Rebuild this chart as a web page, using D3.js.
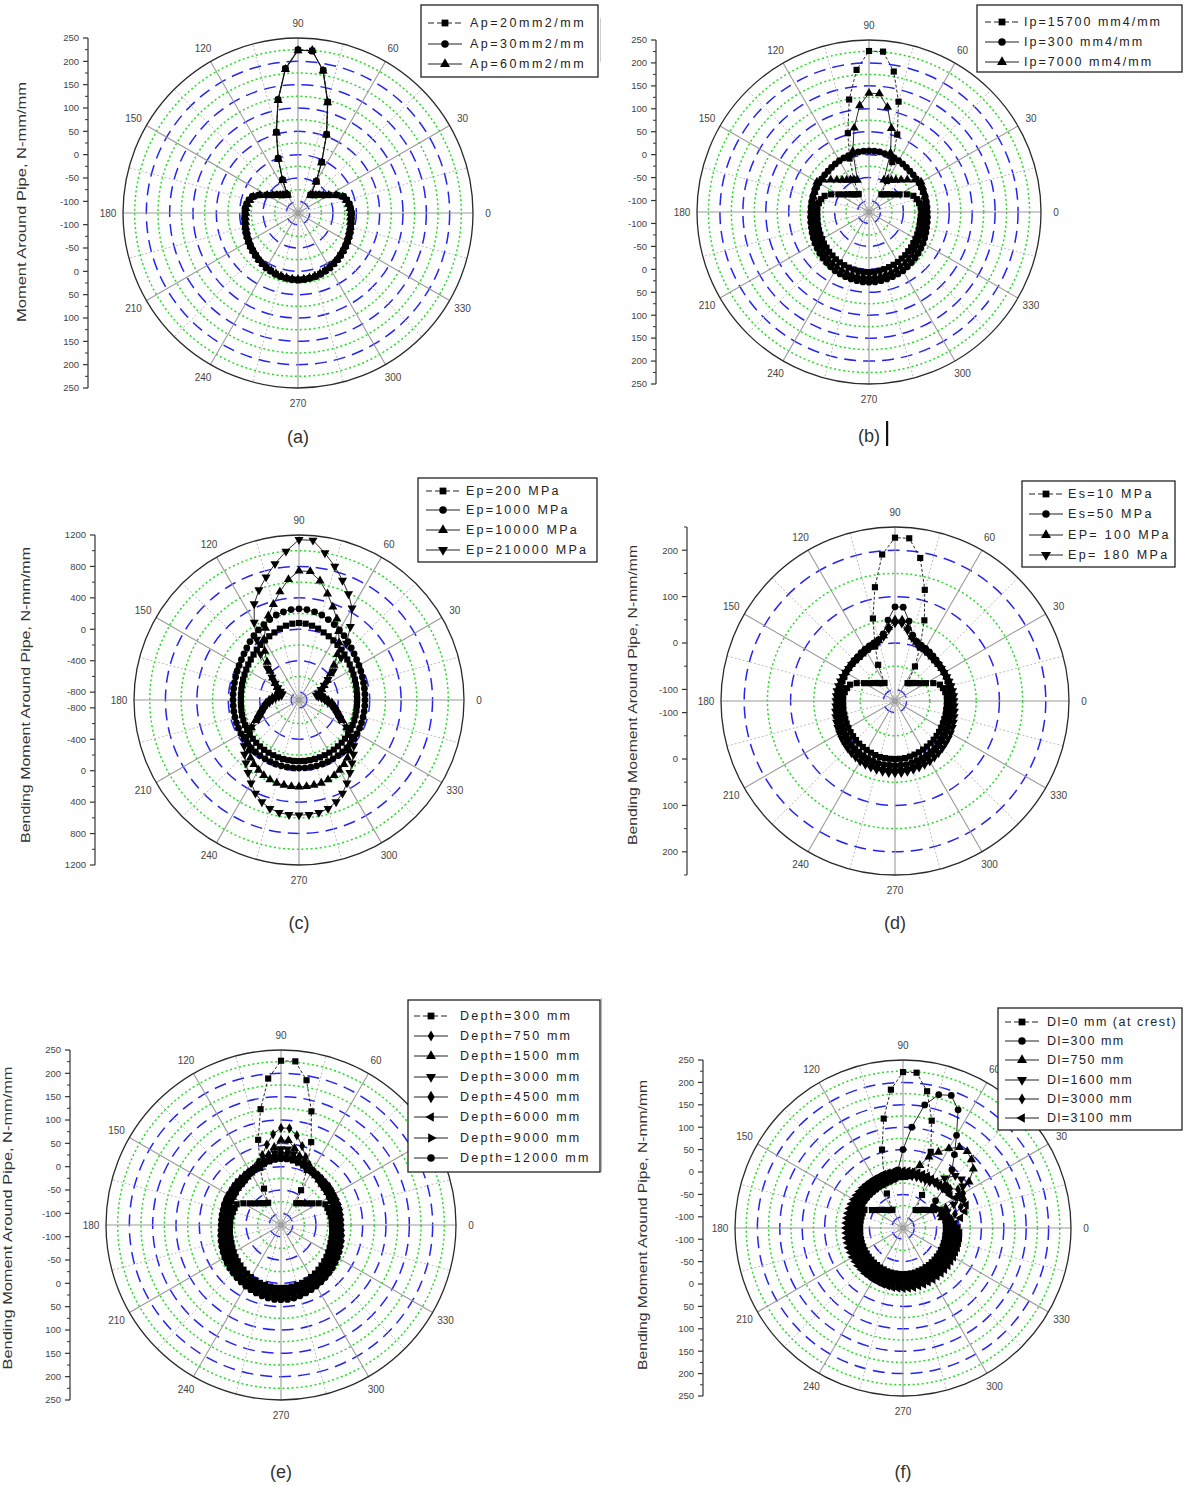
<!DOCTYPE html>
<html>
<head>
<meta charset="utf-8">
<title>Bending moment around pipe – polar plots</title>
<script src="https://cdn.jsdelivr.net/npm/d3@7/dist/d3.min.js"></script>
<style>
  html, body { margin: 0; padding: 0; background: #fff; }
  svg { display: block; }
  text { font-family: "Liberation Sans", Arial, sans-serif; }
</style>
</head>
<body>
<svg id="fig" width="1184" height="1485" viewBox="0 0 1184 1485"></svg>
<script>
// ---------------- data ----------------
// position around the pipe (degrees, counter-clockwise from the springline)
const angleDeg = d3.range(0, 360, 5);
const angleLabels = [0, 30, 60, 90, 120, 150, 180, 210, 240, 270, 300, 330];

// radial axis tick labels
const ticks250 = [250, 200, 150, 100, 50, 0, -50, -100];
const ticks1200 = [1200, 800, 400, 0, -400, -800];
const ticks200 = [200, 100, 0, -100];

// (a) pipe wall area Ap
const apLabels = ["Ap=20mm2/mm", "Ap=30mm2/mm", "Ap=60mm2/mm"];
const ap20 = [
  -11,-12,-14,-17,-22,-34,-48,-58,-65,-70,-75,-78,-47,-5,54,121,185,224,
  224,185,121,54,-1,-47,-80,-78,-75,-70,-65,-58,-48,-34,-22,-17,-14,-12,
  -12,-11,-10,-8,-7,-5,-3,-1,1,3,6,8,10,12,14,16,17,18,
  18,18,17,16,14,12,10,8,6,3,1,-1,-3,-5,-7,-8,-10,-11];
const ap30 = [
  -10,-12,-13,-17,-21,-33,-47,-58,-64,-70,-74,-77,-46,-4,55,122,186,223,
  225,186,122,55,0,-46,-79,-77,-74,-70,-64,-57,-47,-33,-21,-16,-13,-11,
  -11,-10,-9,-8,-6,-4,-2,0,2,4,6,8,11,13,15,16,17,18,
  19,18,17,16,15,13,11,8,6,4,2,0,-2,-4,-6,-8,-9,-10];
const ap60 = [
  -12,-13,-15,-18,-23,-35,-49,-59,-66,-71,-75,-78,-48,-6,53,120,184,225,
  223,184,120,53,-2,-48,-80,-78,-75,-71,-66,-59,-49,-35,-23,-18,-15,-13,
  -13,-12,-11,-9,-8,-6,-4,-2,0,2,5,7,9,11,13,15,16,17,
  17,17,16,15,13,11,9,7,5,2,0,-2,-4,-6,-8,-9,-11,-12];

// (b) pipe wall moment of inertia Ip
const ipLabels = ["Ip=15700 mm4/mm", "Ip=300 mm4/mm", "Ip=7000 mm4/mm"];
const ip15700 = [
  -11,-12,-14,-17,-22,-34,-48,-58,-65,-70,-75,-78,-47,-5,55,124,186,226,
  226,186,124,53,-1,-47,-80,-78,-75,-70,-65,-58,-48,-34,-22,-17,-14,-12,
  -12,-12,-11,-10,-9,-8,-7,-5,-4,-2,-1,1,2,3,4,5,6,6,
  6,6,5,4,3,2,1,-1,-2,-4,-5,-7,-8,-9,-10,-11,-12,-12];
const ip300 = [
  2,2,2,2,1,1,1,1,1,1,2,3,4,5,6,7,8,8,
  8,8,8,7,6,5,4,3,2,1,1,1,1,1,1,2,2,2,
  2,3,4,5,7,9,11,13,15,17,19,21,23,24,25,26,27,28,
  28,28,27,26,25,24,23,21,19,17,15,13,11,9,7,5,4,3];
const ip7000 = [
  -5,-4,-2,0,2,4,6,-3,-16,-26,-34,-40,-44,-48,12,64,107,134,
  134,108,61,12,-51,-48,-44,-40,-34,-26,-16,-3,6,4,2,0,-2,-4,
  -5,-4,-3,-2,0,2,4,6,8,10,12,13,14,15,16,17,17,17,
  17,17,17,16,15,14,13,12,10,8,6,4,2,0,-2,-3,-4,-5];

// (c) pipe modulus Ep
const epLabels = ["Ep=200 MPa", "Ep=1000 MPa", "Ep=10000 MPa", "Ep=210000 MPa"];
const ep200 = [
  -160,-158,-155,-150,-143,-135,-125,-112,-98,-82,-64,-45,-25,-5,15,40,60,75,
  80,75,60,40,15,-5,-25,-45,-64,-82,-98,-112,-125,-135,-143,-150,-155,-158,
  -160,-158,-155,-150,-146,-142,-138,-135,-132,-130,-128,-126,-125,-124,-123,-122,-122,-122,
  -122,-122,-122,-123,-124,-125,-126,-128,-130,-132,-135,-138,-142,-146,-150,-155,-158,-160];
const ep1000 = [
  -60,-58,-55,-50,-42,-32,-20,-5,15,40,70,100,130,160,190,220,240,255,
  260,255,240,220,190,160,130,100,70,40,15,-5,-20,-32,-42,-50,-55,-58,
  -60,-60,-58,-56,-53,-50,-47,-44,-42,-40,-38,-37,-36,-35,-34,-33,-33,-33,
  -33,-33,-33,-33,-34,-35,-36,-37,-38,-40,-42,-44,-47,-50,-53,-56,-58,-60];
const ep10000 = [
  -530,-570,-610,-630,-610,-580,-530,-460,-380,-270,-140,-10,110,240,360,500,640,742,
  742,640,500,360,240,110,-10,-140,-270,-380,-460,-530,-580,-610,-630,-630,-600,-560,
  -520,-480,-440,-400,-350,-290,-200,-120,-50,10,60,100,130,160,180,195,200,205,
  205,205,200,195,180,160,130,100,60,10,-50,-120,-200,-290,-350,-400,-440,-480];
const ep210000 = [
  -570,-610,-650,-670,-640,-590,-530,-450,-330,-140,40,240,450,590,720,860,1000,1140,
  1140,1000,860,720,590,450,240,40,-140,-330,-450,-530,-590,-640,-670,-670,-640,-600,
  -560,-520,-470,-430,-390,-330,-200,-90,10,80,150,230,320,410,480,530,555,565,
  565,565,555,530,480,410,320,230,150,80,10,-90,-200,-330,-390,-430,-480,-530];

// (d) soil modulus Es
const esLabels = ["Es=10 MPa", "Es=50 MPa", "EP= 100 MPa", "Ep= 180 MPa"];
const es10 = [
  -13,-13,-15,-18,-22,-34,-48,-58,-65,-70,-75,-78,-39,2,60,123,188,227,
  227,192,124,59,0,-39,-80,-78,-75,-70,-65,-58,-48,-34,-22,-18,-15,-13,
  -13,-13,-12,-12,-11,-10,-9,-8,-7,-6,-5,-4,-3,-2,-1,0,0,0,
  0,0,0,-1,-2,-3,-4,-5,-6,-7,-8,-9,-10,-11,-12,-12,-13,-13];
const es50 = [
  -4,-4,-4,-4,-4,-3,-3,-2,-1,0,2,4,6,8,12,22,50,78,
  78,50,22,12,8,6,4,2,0,-1,-2,-3,-3,-4,-4,-4,-4,-4,
  -4,-3,-2,-1,0,1,2,4,6,8,9,10,11,12,13,14,14,14,
  14,14,14,13,12,11,10,9,8,6,4,2,1,0,-1,-2,-3,-4];
const es100 = [
  -1,-1,-1,-2,-2,-2,-2,-2,-2,-2,-1,1,3,6,10,18,35,50,
  50,35,18,10,6,3,1,-1,-2,-2,-2,-2,-2,-2,-2,-1,-1,-1,
  -1,0,1,3,5,7,9,11,13,15,16,18,19,20,21,22,22,22,
  22,22,22,21,20,19,18,16,15,13,11,9,7,5,3,1,0,-1];
const es180 = [
  2,2,1,0,-1,-2,-3,-3,-3,-3,-2,0,2,5,9,16,30,43,
  43,30,16,9,5,2,0,-2,-3,-3,-3,-3,-2,-1,0,1,2,2,
  2,3,5,7,9,11,13,15,17,19,21,23,25,26,27,28,29,30,
  30,30,29,28,27,26,25,23,21,19,17,15,13,11,9,7,5,3];

// (e) burial depth
const depthLabels = ["Depth=300 mm", "Depth=750 mm", "Depth=1500 mm", "Depth=3000 mm",
                     "Depth=4500 mm", "Depth=6000 mm", "Depth=9000 mm", "Depth=12000 mm"];
const dep300 = [
  -16,-16,-17,-18,-19,-20,-32,-44,-53,-59,-64,-68,-39,5,64,127,190,227,
  227,190,127,64,5,-39,-70,-68,-64,-59,-53,-44,-32,-20,-19,-18,-17,-16,
  -16,-15,-14,-13,-12,-10,-8,-6,-4,-2,0,2,4,6,7,8,9,10,
  10,10,9,8,7,6,4,2,0,-2,-4,-6,-8,-10,-12,-13,-14,-15];
const dep750 = [
  -10,-10,-9,-9,-8,-7,-7,-5,-4,-3,0,4,10,18,30,50,70,83,
  83,70,50,30,18,10,4,0,-3,-4,-5,-7,-7,-8,-9,-9,-10,-10,
  -10,-9,-8,-6,-4,-2,0,2,4,6,8,9,10,11,12,13,14,14,
  14,14,14,13,12,11,10,9,8,6,4,2,0,-2,-4,-6,-8,-9];
const dep1500 = [
  -7,-7,-6,-6,-5,-5,-4,-3,-2,-1,1,4,8,12,18,28,42,57,
  57,42,28,18,12,8,4,1,-1,-2,-3,-4,-5,-5,-6,-6,-7,-7,
  -7,-6,-5,-3,-1,1,3,5,7,9,11,13,14,15,16,17,18,18,
  18,18,18,17,16,15,14,13,11,9,7,5,3,1,-1,-3,-5,-6];
const dep3000 = [
  -4,-4,-3,-3,-2,-2,-1,0,1,2,4,6,8,12,16,22,30,38,
  38,30,22,16,12,8,6,4,2,1,0,-1,-2,-2,-3,-3,-4,-4,
  -4,-3,-2,0,2,4,6,8,10,12,14,16,18,19,20,21,22,22,
  22,22,22,21,20,19,18,16,14,12,10,8,6,4,2,0,-2,-3];
const dep4500 = [
  -2,-2,-1,-1,0,0,1,2,3,3,5,6,8,11,14,19,25,30,
  30,25,19,14,11,8,6,5,3,3,2,1,0,0,-1,-1,-2,-2,
  -2,-1,0,2,4,6,8,10,12,14,16,18,20,22,23,24,25,26,
  26,26,25,24,23,22,20,18,16,14,12,10,8,6,4,2,0,-1];
const dep6000 = [
  0,0,1,1,1,2,2,3,4,4,5,6,8,10,13,16,20,24,
  24,20,16,13,10,8,6,5,4,4,3,2,2,1,1,1,0,0,
  0,1,2,4,6,8,10,12,14,16,18,20,22,24,26,27,28,29,
  29,29,28,27,26,24,22,20,18,16,14,12,10,8,6,4,2,1];
const dep9000 = [
  1,1,2,2,3,3,3,4,5,5,6,7,8,10,12,15,18,20,
  20,18,15,12,10,8,7,6,5,5,4,3,3,3,2,2,1,1,
  1,2,4,6,8,10,12,14,16,18,20,22,24,26,28,30,31,32,
  32,32,31,30,28,26,24,22,20,18,16,14,12,10,8,6,4,2];
const dep12000 = [
  3,3,3,4,4,4,4,5,6,6,7,8,9,10,12,14,16,17,
  17,16,14,12,10,9,8,7,6,6,5,4,4,4,4,3,3,3,
  3,4,6,8,10,12,14,16,18,20,22,24,26,28,30,32,34,35,
  35,35,34,32,30,28,26,24,22,20,18,16,14,12,10,8,6,4];

// (f) lateral distance of the load from the crest
const dlLabels = ["Dl=0 mm (at crest)", "Dl=300 mm", "Dl=750 mm", "Dl=1600 mm", "Dl=3000 mm", "Dl=3100 mm"];
const dl0 = [
  -29,-29,-29,-29,-29,-30,-45,-55,-62,-68,-73,-76,-40,0,56,123,185,223,
  223,185,123,56,0,-40,-78,-76,-73,-68,-62,-55,-45,-30,-29,-29,-29,-29,
  -29,-29,-28,-28,-27,-27,-26,-26,-25,-25,-24,-24,-23,-23,-22,-22,-22,-22,
  -22,-22,-22,-22,-23,-23,-24,-24,-25,-25,-26,-26,-27,-27,-28,-28,-29,-29];
const dl300 = [
  -20,-20,-21,-22,-24,-30,-40,-42,-30,10,45,75,114,166,190,183,154,101,
  50,5,-15,-17,-18,-19,-19,-20,-20,-20,-20,-20,-20,-20,-20,-20,-20,-20,
  -20,-19,-19,-18,-18,-17,-17,-16,-16,-15,-15,-14,-14,-13,-13,-12,-12,-12,
  -12,-12,-12,-13,-13,-14,-14,-15,-15,-16,-16,-17,-17,-18,-18,-19,-19,-20];
const dl750 = [
  -13,-15,-25,-35,-35,-20,20,55,80,91,98,95,80,62,44,20,0,-10,
  -12,-12,-13,-13,-13,-13,-13,-13,-13,-13,-13,-13,-13,-13,-13,-13,-13,-13,
  -13,-13,-12,-12,-11,-11,-10,-10,-9,-9,-8,-8,-7,-7,-7,-6,-6,-6,
  -6,-6,-6,-7,-7,-7,-8,-8,-9,-9,-10,-10,-11,-11,-12,-12,-13,-13];
const dl1600 = [
  -8,-15,-25,-30,-20,0,20,38,45,40,20,0,-6,-7,-7,-7,-7,-7,
  -6,-6,-6,-6,-7,-7,-7,-7,-7,-7,-7,-7,-7,-7,-7,-7,-7,-7,
  -7,-7,-6,-6,-5,-5,-4,-4,-3,-3,-2,-2,-1,-1,-1,0,0,0,
  0,0,0,-1,-1,-1,-2,-2,-3,-3,-4,-4,-5,-5,-6,-6,-7,-7];
const dl3000 = [
  -5,-12,-15,-5,12,25,30,25,12,0,-2,-2,-2,-2,-2,-1,-1,-1,
  -1,-1,-1,-1,-2,-2,-2,-2,-2,-2,-2,-2,-2,-2,-2,-2,-2,-2,
  -2,-2,-1,-1,0,0,1,1,2,2,3,3,4,4,4,5,5,5,
  5,5,5,4,4,4,3,3,2,2,1,1,0,0,-1,-1,-2,-3];
const dl3100 = [
  -2,-8,5,18,25,22,10,3,2,2,2,2,2,3,3,3,3,3,
  3,3,3,3,3,2,2,2,2,2,2,2,2,2,2,2,2,2,
  2,2,3,3,4,4,5,5,6,6,7,7,8,8,9,9,10,10,
  10,10,10,9,9,8,8,7,7,6,6,5,5,4,4,3,3,2];

// ---------------- drawing ----------------
const svg = d3.select("#fig");
const toRad = a => (90 - a) * Math.PI / 180;

const SQ = {type: d3.symbolSquare, size: 38, rot: 0};
const CI = {type: d3.symbolCircle, size: 36, rot: 0};
const TU = {type: d3.symbolTriangle, size: 36, rot: 0};
const TD = {type: d3.symbolTriangle, size: 36, rot: 180};
const DI = {type: d3.symbolDiamond, size: 30, rot: 0};
const DB = {type: d3.symbolDiamond, size: 38, rot: 0};
const TL = {type: d3.symbolTriangle, size: 34, rot: -90};
const TR = {type: d3.symbolTriangle, size: 34, rot: 90};

const ringsStd = {blue: [200, 150, 100, 50, 0, -50, -100], green: [225, 175, 125, 75, 25, -25, -75]};
const ringsE = {blue: [800, 400, 0, -400, -800], green: [1000, 600, 200, -200, -600]};
const ringsS = {blue: [200, 100, 0, -100], green: [150, 50, -50]};

function mk(values, sym, label, dash) { return {values, sym, label, dash}; }

const panels = [
  {cx: 298, cy: 213, R: 175, domain: [-125, 250], rings: ringsStd, ticks: ticks250, minor: 25, axisX: 88,
   title: "Moment  Around Pipe, N-mm/mm", titleX: 22, titleY: 202, titleLen: 240,
   caption: "(a)", capY: 437,
   legend: {x: 421, y: 5, w: 177, h: 72, rows: [23, 44, 64], sx: 428, tx: 470, ls: 2.5},
   series: [mk(ap20, SQ, apLabels[0], "3 2"), mk(ap30, CI, apLabels[1]), mk(ap60, TU, apLabels[2])]},
  {cx: 869, cy: 212, R: 172, domain: [-125, 250], rings: ringsStd, ticks: ticks250, minor: 25, axisX: 656,
   title: null, caption: "(b)", capY: 436,
   legend: {x: 977, y: 5, w: 205, h: 67, rows: [22, 42, 62], sx: 985, tx: 1024, ls: 2},
   series: [mk(ip15700, SQ, ipLabels[0], "3 2"), mk(ip300, CI, ipLabels[1]), mk(ip7000, TU, ipLabels[2])]},
  {cx: 299, cy: 700, R: 165, domain: [-900, 1200], rings: ringsE, ticks: ticks1200, minor: 200, axisX: 95,
   title: "Bending Moment  Around Pipe, N-mm/mm", titleX: 26, titleY: 695, titleLen: 296,
   caption: "(c)", capY: 923,
   legend: {x: 418, y: 478, w: 179, h: 84, rows: [491, 510, 530, 550], sx: 426, tx: 466, ls: 2.2},
   series: [mk(ep200, SQ, epLabels[0], "3 2"), mk(ep1000, CI, epLabels[1]), mk(ep10000, TU, epLabels[2]), mk(ep210000, TD, epLabels[3])]},
  {cx: 895, cy: 701, R: 174, domain: [-125, 250], rings: ringsS, ticks: ticks200, minor: 50, axisX: 687,
   title: "Bending Moement Around Pipe, N-mm/mm", titleX: 633, titleY: 695, titleLen: 300,
   caption: "(d)", capY: 923,
   legend: {x: 1022, y: 481, w: 153, h: 86, rows: [494, 514, 535, 555], sx: 1029, tx: 1068, ls: 2.3},
   series: [mk(es10, SQ, esLabels[0], "3 2"), mk(es50, CI, esLabels[1]), mk(es100, TU, esLabels[2]), mk(es180, TD, esLabels[3])]},
  {cx: 281, cy: 1225, R: 175, domain: [-125, 250], rings: ringsStd, ticks: ticks250, minor: 25, axisX: 70,
   title: "Bending Moment Around Pipe, N-mm/mm", titleX: 8, titleY: 1218, titleLen: 303,
   caption: "(e)", capY: 1472,
   legend: {x: 408, y: 1000, w: 192, h: 172, rows: [1016, 1036, 1056, 1077, 1097, 1117, 1138, 1158], sx: 414, tx: 460, ls: 2.2},
   series: [mk(dep300, SQ, depthLabels[0], "3 2"), mk(dep750, DI, depthLabels[1]), mk(dep1500, TU, depthLabels[2]),
            mk(dep3000, TD, depthLabels[3]), mk(dep4500, DB, depthLabels[4]), mk(dep6000, TL, depthLabels[5]),
            mk(dep9000, TR, depthLabels[6]), mk(dep12000, CI, depthLabels[7])]},
  {cx: 903, cy: 1228, R: 168, domain: [-125, 250], rings: ringsStd, ticks: ticks250, minor: 25, axisX: 703,
   title: "Bending Moment Around Pipe, N-mm/mm", titleX: 643, titleY: 1225, titleLen: 290,
   caption: "(f)", capY: 1472,
   legend: {x: 998, y: 1008, w: 184, h: 122, rows: [1022, 1041, 1060, 1080, 1099, 1118], sx: 1005, tx: 1047, ls: 1.5},
   series: [mk(dl0, SQ, dlLabels[0], "3 2"), mk(dl300, CI, dlLabels[1]), mk(dl750, TU, dlLabels[2]),
            mk(dl1600, TD, dlLabels[3]), mk(dl3000, DI, dlLabels[4]), mk(dl3100, TL, dlLabels[5])]}
];

function symbolPath(sym) { return d3.symbol().type(sym.type).size(sym.size)(); }

function drawPanel(p) {
  const r = d3.scaleLinear().domain(p.domain).range([0, p.R]);
  const g = svg.append("g").attr("transform", `translate(${p.cx},${p.cy})`);

  // grid rings: dotted green at minor, dashed blue at major values
  g.selectAll(null).data(p.rings.green).join("circle")
    .attr("r", d => r(d)).attr("fill", "none")
    .attr("stroke", "#22dd22").attr("stroke-width", 1.5).attr("stroke-dasharray", "2 2.6");
  g.selectAll(null).data(p.rings.blue).join("circle")
    .attr("r", d => r(d)).attr("fill", "none")
    .attr("stroke", "#2424f0").attr("stroke-width", 1.5).attr("stroke-dasharray", "12 7");

  // spokes
  g.selectAll(null).data(d3.range(15, 360, 30)).join("line")
    .attr("x1", 0).attr("y1", 0)
    .attr("x2", d => d3.pointRadial(toRad(d), p.R)[0])
    .attr("y2", d => d3.pointRadial(toRad(d), p.R)[1])
    .attr("stroke", "#bdbdbd").attr("stroke-width", 1).attr("stroke-dasharray", "2 2");
  g.selectAll(null).data(d3.range(0, 360, 30)).join("line")
    .attr("x1", 0).attr("y1", 0)
    .attr("x2", d => d3.pointRadial(toRad(d), p.R)[0])
    .attr("y2", d => d3.pointRadial(toRad(d), p.R)[1])
    .attr("stroke", "#9a9a9a").attr("stroke-width", 1.1);

  g.append("circle").attr("r", p.R).attr("fill", "none").attr("stroke", "#2a2a2a").attr("stroke-width", 1.3);
  g.append("circle").attr("r", 3.2).attr("fill", "#a0a0a0");

  // angle labels
  g.selectAll(null).data(angleLabels).join("text")
    .attr("x", d => d3.pointRadial(toRad(d), p.R + 15)[0])
    .attr("y", d => d3.pointRadial(toRad(d), p.R + 15)[1])
    .attr("text-anchor", "middle").attr("dy", "0.35em")
    .attr("font-size", 10).attr("fill", "#444")
    .text(d => d);

  // series
  const line = d3.lineRadial()
    .angle(d => toRad(d.a)).radius(d => r(d.v))
    .curve(d3.curveLinearClosed);
  p.series.forEach(s => {
    if (s.values.length !== angleDeg.length) throw new Error("bad length " + s.label + " " + s.values.length);
    const pts = angleDeg.map((a, i) => ({a, v: s.values[i]}));
    g.append("path").attr("d", line(pts)).attr("fill", "none")
      .attr("stroke", "#111").attr("stroke-width", 0.9)
      .attr("stroke-dasharray", s.dash || null);
    const sp = symbolPath(s.sym);
    g.selectAll(null).data(pts).join("path")
      .attr("transform", d => {
        const [x, y] = d3.pointRadial(toRad(d.a), r(d.v));
        return `translate(${x},${y}) rotate(${s.sym.rot})`;
      })
      .attr("d", sp).attr("fill", "#000");
  });

  // left radial axis (mirrored above and below the centre)
  const ax = svg.append("g");
  ax.append("line").attr("x1", p.axisX).attr("x2", p.axisX)
    .attr("y1", p.cy - p.R).attr("y2", p.cy + p.R)
    .attr("stroke", "#333").attr("stroke-width", 1.2);
  const minorVals = [];
  for (let v = p.domain[1]; v > p.domain[0]; v -= p.minor) {
    if (!p.ticks.includes(v)) minorVals.push(v);
  }
  [-1, 1].forEach(sgn => {
    ax.selectAll(null).data(p.ticks).join("line")
      .attr("x1", p.axisX - 5).attr("x2", p.axisX)
      .attr("y1", d => p.cy + sgn * r(d)).attr("y2", d => p.cy + sgn * r(d))
      .attr("stroke", "#333").attr("stroke-width", 1.2);
    ax.selectAll(null).data(minorVals).join("line")
      .attr("x1", p.axisX - 3).attr("x2", p.axisX)
      .attr("y1", d => p.cy + sgn * r(d)).attr("y2", d => p.cy + sgn * r(d))
      .attr("stroke", "#333").attr("stroke-width", 1);
    ax.selectAll(null).data(p.ticks).join("text")
      .attr("x", p.axisX - 9).attr("y", d => p.cy + sgn * r(d))
      .attr("dy", "0.35em").attr("text-anchor", "end")
      .attr("font-size", 9.5).attr("fill", "#444")
      .text(d => d);
  });

  if (p.title) {
    svg.append("text")
      .attr("transform", `translate(${p.titleX},${p.titleY}) rotate(-90)`)
      .attr("text-anchor", "middle").attr("dy", "0.35em")
      .attr("font-size", 12.5).attr("fill", "#333")
      .attr("textLength", p.titleLen).attr("lengthAdjust", "spacingAndGlyphs")
      .text(p.title);
  }

  // legend
  const L = p.legend;
  const lg = svg.append("g");
  lg.append("rect").attr("x", L.x).attr("y", L.y).attr("width", L.w).attr("height", L.h)
    .attr("fill", "#fff").attr("stroke", "#222").attr("stroke-width", 1.3);
  p.series.forEach((s, i) => {
    const y = L.rows[i];
    lg.append("line").attr("x1", L.sx).attr("x2", L.sx + 34).attr("y1", y).attr("y2", y)
      .attr("stroke", "#222").attr("stroke-width", 1.1)
      .attr("stroke-dasharray", s.dash ? "6 3" : null);
    lg.append("path").attr("d", symbolPath(s.sym))
      .attr("transform", `translate(${L.sx + 17},${y}) rotate(${s.sym.rot}) scale(1.1)`)
      .attr("fill", "#000");
    lg.append("text").attr("x", L.tx).attr("y", y).attr("dy", "0.35em")
      .attr("font-size", 12.5).attr("letter-spacing", L.ls).attr("fill", "#222")
      .text(s.label);
  });

  // caption
  svg.append("text").attr("x", p.cx).attr("y", p.capY)
    .attr("text-anchor", "middle").attr("dy", "0.35em")
    .attr("font-family", "'Open Sans', 'Noto Sans', sans-serif")
    .attr("font-size", 18).attr("fill", "#333")
    .text(p.caption);
}

panels.forEach(drawPanel);

// text caret after caption (b) and thin frame edges at the left of (b) and (f)
svg.append("rect").attr("x", 886).attr("y", 421).attr("width", 2.2).attr("height", 25).attr("fill", "#111");
svg.append("line").attr("x1", 600.5).attr("x2", 600.5).attr("y1", 18).attr("y2", 62).attr("stroke", "#d0d0d0");
svg.append("line").attr("x1", 601.5).attr("x2", 601.5).attr("y1", 998).attr("y2", 1172).attr("stroke", "#b8b8b8");
</script>
</body>
</html>
